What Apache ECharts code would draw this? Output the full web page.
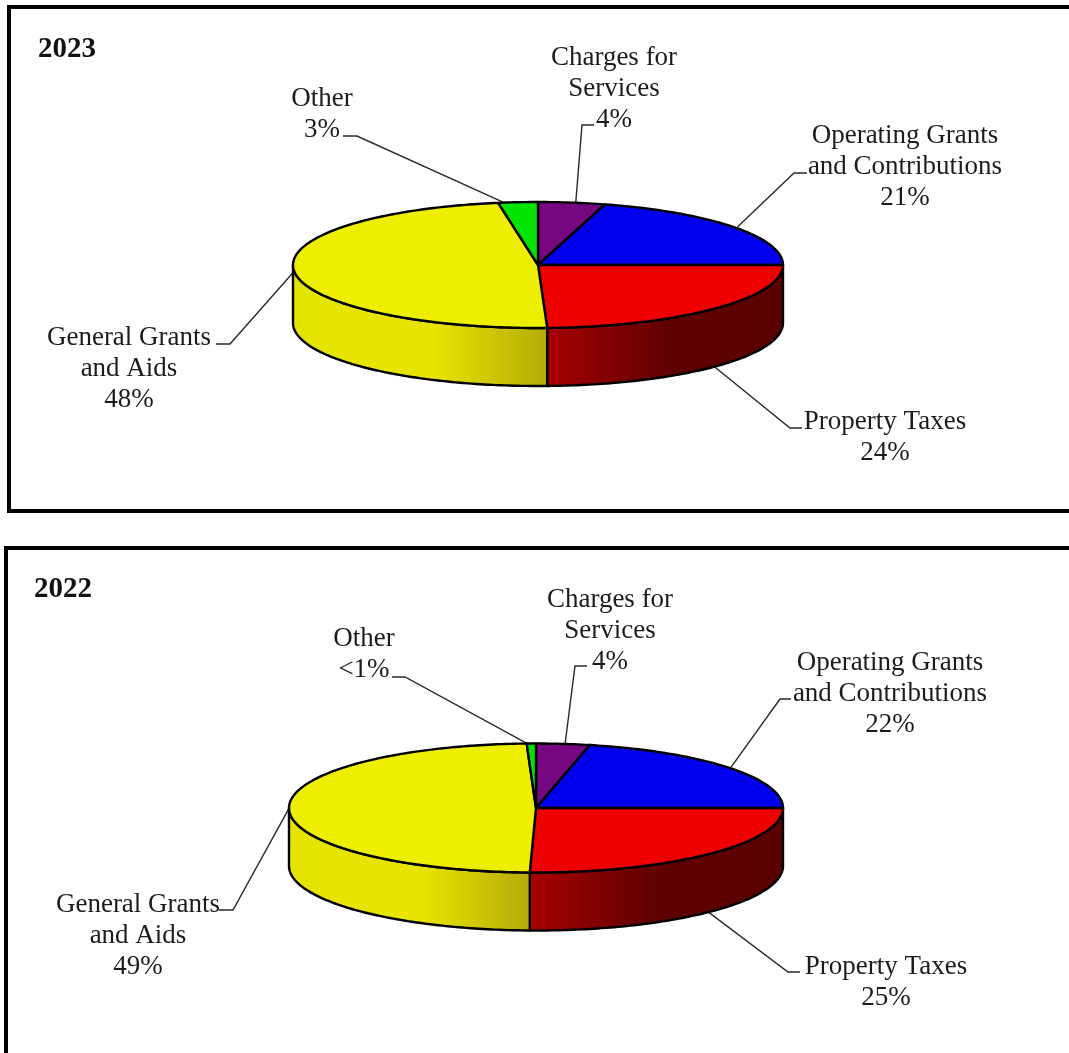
<!DOCTYPE html>
<html>
<head>
<meta charset="utf-8">
<style>html,body{margin:0;padding:0;background:#fff}#c{width:1069px;height:1053px}</style>
<script src="https://cdn.jsdelivr.net/npm/echarts@6/dist/echarts.min.js"></script>
</head>
<body>
<div id="c"></div>
<script>
// ---- data ----
const categories = ['Charges for\nServices', 'Operating Grants\nand Contributions', 'Property Taxes', 'General Grants\nand Aids', 'Other'];
const years = ['2023', '2022'];
const values2023 = [4.4, 20.6, 24.4, 48.0, 2.6];
const values2022 = [3.5, 21.5, 25.4, 49.0, 0.6];
const percentLabels2023 = ['4%', '21%', '24%', '48%', '3%'];
const percentLabels2022 = ['4%', '22%', '25%', '49%', '<1%'];

// ---- styling and layout ----
const topColors = ['#750880', '#0000ee', '#ee0000', '#eeee00', '#00e400'];
const wallStops = [
  null, null,
  [[0, '#a80000'], [0.5, '#600000'], [1, '#5a0000']],
  [[0, '#e4e400'], [0.55, '#e8e400'], [1, '#b5aa08']],
  null
];
const FONT = '"Liberation Serif","Times New Roman",serif';
const pies = [
  { values: values2023, pct: percentLabels2023, year: years[0], yearPos: [38, 50],
    cx: 538, cy: 265, rx: 245, ry: 63, depth: 58,
    labels: [[614, 56], [905, 134], [885, 420], [129, 336], [322, 97]],
    elbows: [[[582, 125], [594, 125]], [[794, 173], [807, 173]], [[790, 428], [802, 428]], [[230, 344], [216, 344]], [[357, 136], [343, 136]]],
    anchorWall: [0, 0, 1, 0, 0], anchorDx: [4, 4, 0, 0, -15] },
  { values: values2022, pct: percentLabels2022, year: years[1], yearPos: [34, 590],
    cx: 536, cy: 808, rx: 247, ry: 64.5, depth: 58,
    labels: [[610, 598], [890, 661], [886, 965], [138, 903], [364, 637]],
    elbows: [[[575, 666], [587, 666]], [[780, 699], [791, 699]], [[788, 972], [800, 972]], [[233, 910], [219, 910]], [[405, 677], [392, 677]]],
    anchorWall: [0, 0, 1, 0, 0], anchorDx: [2, 2, 0, 0, -4] }
];

function pt(p, deg, dy) {
  const a = deg * Math.PI / 180;
  return [p.cx + p.rx * Math.sin(a), p.cy - p.ry * Math.cos(a) + (dy || 0)];
}
function arc(p, a0, a1, dy) {
  const out = [], n = Math.max(2, Math.ceil(Math.abs(a1 - a0)));
  for (let i = 0; i <= n; i++) out.push(pt(p, a0 + (a1 - a0) * i / n, dy));
  return out;
}

function makeSeries(p) {
  let sum = 0;
  const rows = p.values.map((v, i) => { const r = [i, sum, sum + v]; sum += v; return r; });
  return {
    type: 'custom',
    coordinateSystem: 'none',
    silent: true,
    animation: false,
    data: rows,
    renderItem: function (params, api) {
      const i = api.value(0);
      const a0 = api.value(1) / sum * 360, a1 = api.value(2) / sum * 360;
      const children = [];
      // side wall: only the front half of the disc shows
      const w0 = Math.max(a0, 90), w1 = Math.min(a1, 270);
      if (w1 > w0 && wallStops[i]) {
        children.push({
          type: 'polygon', z2: 1,
          shape: { points: arc(p, w0, w1, 0).concat(arc(p, w1, w0, p.depth)) },
          style: { fill: { type: 'linear', x: 0, y: 0, x2: 1, y2: 0, colorStops: wallStops[i].map(s => ({ offset: s[0], color: s[1] })) },
                   stroke: '#000', lineWidth: 2.4, lineJoin: 'round' }
        });
      }
      // top face
      children.push({
        type: 'polygon', z2: 2,
        shape: { points: [[p.cx, p.cy]].concat(arc(p, a0, a1, 0)) },
        style: { fill: topColors[i], stroke: '#000', lineWidth: 2.4, lineJoin: 'round' }
      });
      // leader line
      const s = pt(p, (a0 + a1) / 2, p.anchorWall[i] ? p.depth : 0);
      s[0] += p.anchorDx[i];
      children.push({
        type: 'polyline', z2: 0,
        shape: { points: [s, p.elbows[i][0], p.elbows[i][1]] },
        style: { fill: null, stroke: '#2a2a2a', lineWidth: 1.4 }
      });
      // label
      children.push({
        type: 'text', z2: 3,
        x: p.labels[i][0], y: p.labels[i][1] - 14,
        style: { text: categories[i] + '\n' + p.pct[i], font: '27px ' + FONT, lineHeight: 31,
                 align: 'center', verticalAlign: 'top', fill: '#1c1c1c' }
      });
      return { type: 'group', children: children };
    }
  };
}

const chart = echarts.init(document.getElementById('c'), null, { renderer: 'canvas' });
chart.setOption({
  animation: false,
  backgroundColor: '#fff',
  graphic: [
    { type: 'rect', shape: { x: 9, y: 7, width: 1100, height: 504 }, style: { fill: null, stroke: '#000', lineWidth: 4 } },
    { type: 'rect', shape: { x: 6, y: 548, width: 1100, height: 560 }, style: { fill: null, stroke: '#000', lineWidth: 4 } }
  ].concat(pies.map(p => ({
    type: 'text', x: p.yearPos[0], y: p.yearPos[1],
    style: { text: p.year, font: 'bold 29px ' + FONT, fill: '#111', verticalAlign: 'middle' }
  }))),
  series: pies.map(makeSeries)
});
</script>
</body>
</html>
